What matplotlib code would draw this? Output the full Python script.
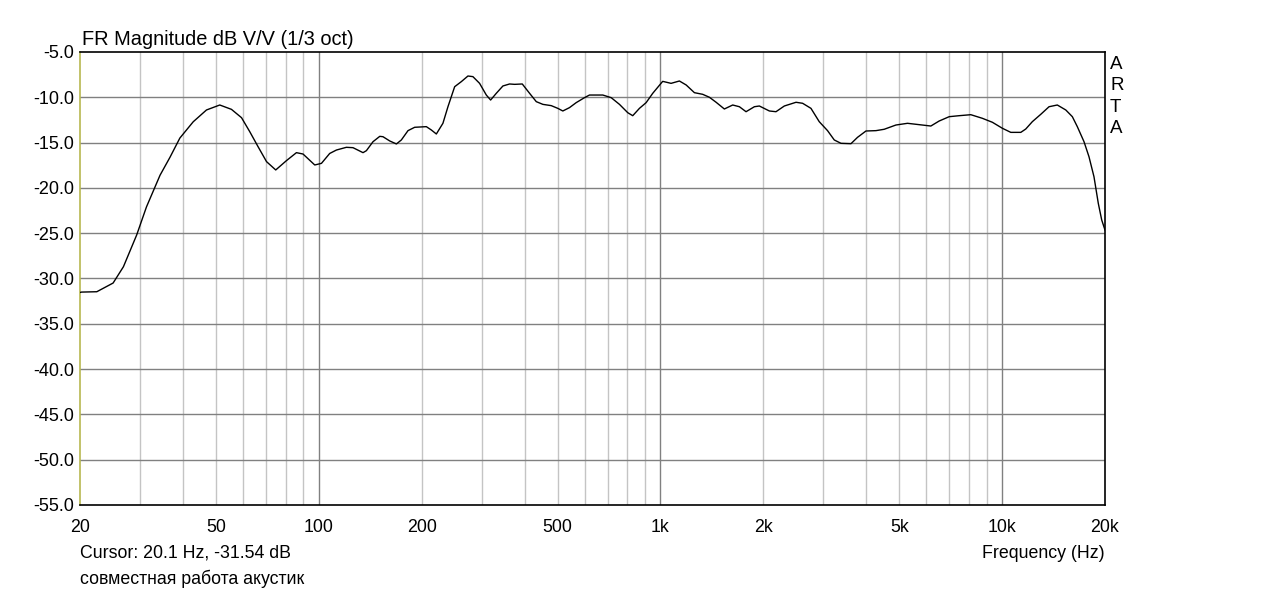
import numpy as np
import matplotlib
matplotlib.use("Agg")
import matplotlib.pyplot as plt
from matplotlib.ticker import FixedLocator, NullFormatter

plt.rcParams['font.family'] = ['Liberation Sans', 'DejaVu Sans']

# Frequency response (Hz, dB)
freq_hz = [20, 20.2, 22.4, 25.0, 26.8, 29.3, 31.3, 34.3, 36.7, 39.2, 42.9, 46.9, 51.3,
           55.5, 59.4, 62.8, 66.4, 70.3, 74.8, 80.4, 86.0, 89.9, 97.3, 101.8, 107.6,
           112.6, 120.4, 125.9, 134.7, 137.8, 144.1, 150.8, 154.1, 161.3, 168.7, 174.4,
           182.4, 190.8, 206.4, 213.5, 220.8, 230.8, 238.8, 249.8, 261.3, 273.2, 282.5,
           295.5, 309.2, 318.3, 330.7, 345.8, 361.7, 374.1, 394.0, 413.9, 433.0, 452.7,
           478.9, 500.6, 517.8, 541.6, 566.6, 599.2, 619.7, 677.9, 717.4, 758.5, 802.1,
           829.5, 867.8, 907.8, 949.1, 1015, 1074, 1136, 1189, 1257, 1329, 1391, 1455,
           1538, 1627, 1702, 1780, 1883, 1947, 2083, 2178, 2304, 2493, 2606, 2757, 2915,
           3083, 3226, 3375, 3610, 3773, 3994, 4272, 4516, 4887, 5284, 5716, 6185, 6539,
           6998, 7484, 8096, 8754, 9366, 10016, 10600, 11340, 11725, 12256, 12972, 13717,
           14503, 15355, 16050, 16596, 17361, 17954, 18569, 19115, 19561, 20000]
mag_db = [-31.54, -31.5, -31.46, -30.5, -28.7, -25.2, -22.1, -18.6, -16.6, -14.5, -12.7,
          -11.4, -10.85, -11.33, -12.25, -13.8, -15.45, -17.1, -18.02, -16.99, -16.11,
          -16.26, -17.47, -17.29, -16.2, -15.82, -15.52, -15.56, -16.11, -15.89, -14.9,
          -14.31, -14.35, -14.82, -15.15, -14.71, -13.68, -13.31, -13.24, -13.61, -14.05,
          -12.87, -11.03, -8.83, -8.27, -7.65, -7.72, -8.46, -9.75, -10.3, -9.56, -8.75,
          -8.53, -8.57, -8.53, -9.56, -10.48, -10.78, -10.92, -11.22, -11.51, -11.14,
          -10.59, -10.04, -9.75, -9.75, -10.04, -10.78, -11.70, -12.03, -11.22, -10.59,
          -9.56, -8.24, -8.46, -8.20, -8.64, -9.49, -9.67, -10.0, -10.55, -11.29, -10.85,
          -11.04, -11.59, -11.04, -10.96, -11.51, -11.59, -10.96, -10.55, -10.66, -11.22,
          -12.69, -13.68, -14.71, -15.08, -15.12, -14.42, -13.72, -13.68, -13.53, -13.06,
          -12.87, -13.02, -13.17, -12.62, -12.14, -12.03, -11.92, -12.32, -12.76, -13.42,
          -13.87, -13.87, -13.50, -12.69, -11.88, -11.04, -10.85, -11.40, -12.14, -13.24,
          -14.90, -16.56, -18.77, -21.70, -23.54, -24.65]

x_major = [20, 50, 100, 200, 500, 1000, 2000, 5000, 10000, 20000]
x_major_labels = ['20', '50', '100', '200', '500', '1k', '2k', '5k', '10k', '20k']
y_ticks = [-5, -10, -15, -20, -25, -30, -35, -40, -45, -50, -55]

fig = plt.figure(figsize=(12.7, 5.93), dpi=100)
ax = fig.add_axes([80/1270, 1-505/593, (1105-80)/1270, (505-52)/593])

ax.set_xscale('log')
ax.set_xlim(20, 20000)
ax.set_ylim(-55, -5)

# grid lines
minor = []
for dec in [10, 100, 1000, 10000]:
    for m in range(2, 10):
        f = dec * m
        if 20 < f < 20000:
            minor.append(f)
decades = [100, 1000, 10000]
for f in minor:
    if f not in decades:
        ax.axvline(f, color='#c4c4c4', lw=1.0, zorder=1)
for f in decades:
    ax.axvline(f, color='#808080', lw=1.0, zorder=1)
for y in y_ticks[1:-1]:
    ax.axhline(y, color='#808080', lw=1.0, zorder=1)

ax.plot(freq_hz, mag_db, color='black', lw=1.0, zorder=3)

ax.xaxis.set_major_locator(FixedLocator(x_major))
ax.set_xticklabels(x_major_labels)
ax.xaxis.set_minor_locator(FixedLocator([]))
ax.xaxis.set_minor_formatter(NullFormatter())
ax.set_yticks(y_ticks)
ax.set_yticklabels([f'{v:.1f}' for v in y_ticks])
ax.tick_params(axis='both', length=0, colors='black')
ax.tick_params(axis='x', pad=10, labelsize=12.8)
ax.tick_params(axis='y', pad=4, labelsize=13)

for s in ['top', 'right', 'bottom']:
    ax.spines[s].set_color('black')
    ax.spines[s].set_linewidth(1.2)
ax.spines['left'].set_color('#b8b850')
ax.spines['left'].set_linewidth(1.2)

fig.text(82/1270, 1-45/593, 'FR Magnitude dB V/V (1/3 oct)', fontsize=14.4, ha='left', va='baseline')
fig.text(80/1270, 1-558/593, 'Cursor: 20.1 Hz, -31.54 dB', fontsize=12.8, ha='left', va='baseline')
fig.text(80/1270, 1-584/593, 'совместная работа акустик', fontsize=12.8, ha='left', va='baseline')
fig.text(1105/1270, 1-558/593, 'Frequency (Hz)', fontsize=12.8, ha='right', va='baseline')
for i, ch in enumerate('ARTA'):
    fig.text(1110/1270, 1-(69 + i*21.5)/593, ch, fontsize=13.5, ha='left', va='baseline')

fig.savefig('out.png', dpi=100)
